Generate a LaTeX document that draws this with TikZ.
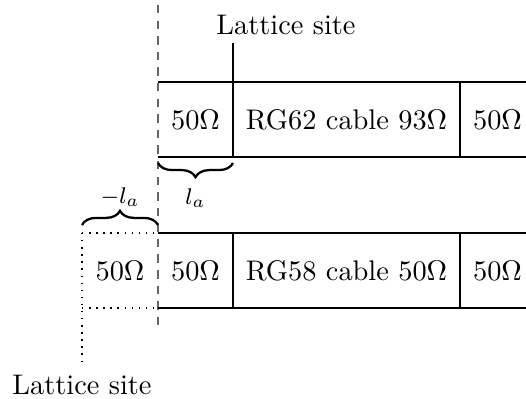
\documentclass[tikz,border=0pt]{standalone}
\usetikzlibrary{decorations.pathreplacing}
\begin{document}
\begin{tikzpicture}[x=0.3527pt,y=-0.3527pt,
  cell/.style={inner sep=0pt, anchor=center},
  site/.style={anchor=base, inner sep=0pt},
  wall/.style={line width=0.4pt},
  refline/.style={dash pattern=on 3pt off 2.5pt, line width=0.6pt, black!60},
  ghost/.style={dotted, line width=0.5pt},
  bracket/.style={decorate, decoration={brace, amplitude=5pt}, thick},
  len/.style={font=\footnotesize, inner sep=0pt, anchor=base}]
\clip (0,0) rectangle (526,399);

% reference plane
\coordinate (reftop) at (158,5);
\coordinate (refbot) at (158,330);
\draw[refline] (reftop) -- (refbot);

% upper line: 50 Ohm | RG62 | 50 Ohm
\coordinate (u0t) at (158,82);  \coordinate (u0b) at (158,157);
\coordinate (u1t) at (233,82);  \coordinate (u1b) at (233,157);
\coordinate (u2t) at (460,82);  \coordinate (u2b) at (460,157);
\coordinate (uendt) at (540,82); \coordinate (uendb) at (540,157);
\coordinate (usite) at (233,43);
\draw[wall] (u0t) -- (uendt) (u0b) -- (uendb);
\draw[wall] (usite) -- (u1b) (u2t) -- (u2b);
\node[cell] (ua) at (195.5,120) {50$\Omega$};
\node[cell] (ub) at (346.5,120) {RG62 cable 93$\Omega$};
\node[cell] (uc) at (497.5,120) {50$\Omega$};
\node[site] (usitelabel) at (286,35) {Lattice site};

% lower line: (50 Ohm) | 50 Ohm | RG58 | 50 Ohm
\coordinate (gt) at (82,233);   \coordinate (gb) at (82,308);
\coordinate (l0t) at (158,233); \coordinate (l0b) at (158,308);
\coordinate (l1t) at (233,233); \coordinate (l1b) at (233,308);
\coordinate (l2t) at (460,233); \coordinate (l2b) at (460,308);
\coordinate (lendt) at (540,233); \coordinate (lendb) at (540,308);
\coordinate (lsite) at (82,363);
\draw[wall] (l0t) -- (lendt) (l0b) -- (lendb);
\draw[wall] (l1t) -- (l1b) (l2t) -- (l2b);
\draw[ghost] (gt) -- (l0t) (gb) -- (l0b) (gt) -- (lsite);
\node[cell] (lg) at (120,271) {50$\Omega$};
\node[cell] (la) at (195.5,271) {50$\Omega$};
\node[cell] (lb) at (346.5,271) {RG58 cable 50$\Omega$};
\node[cell] (lc) at (497.5,271) {50$\Omega$};
\node[site] (lsitelabel) at (82,395) {Lattice site};

% lengths
\coordinate (bra) at (233,163); \coordinate (brb) at (158,163);
\draw[bracket] (bra) -- (brb);
\node[len] (plus) at (195.5,205) {$l_a$};
\coordinate (brc) at (82,225); \coordinate (brd) at (158,225);
\draw[bracket] (brc) -- (brd);
\node[len] (minus) at (120,204) {$-l_a$};
\end{tikzpicture}
\end{document}
